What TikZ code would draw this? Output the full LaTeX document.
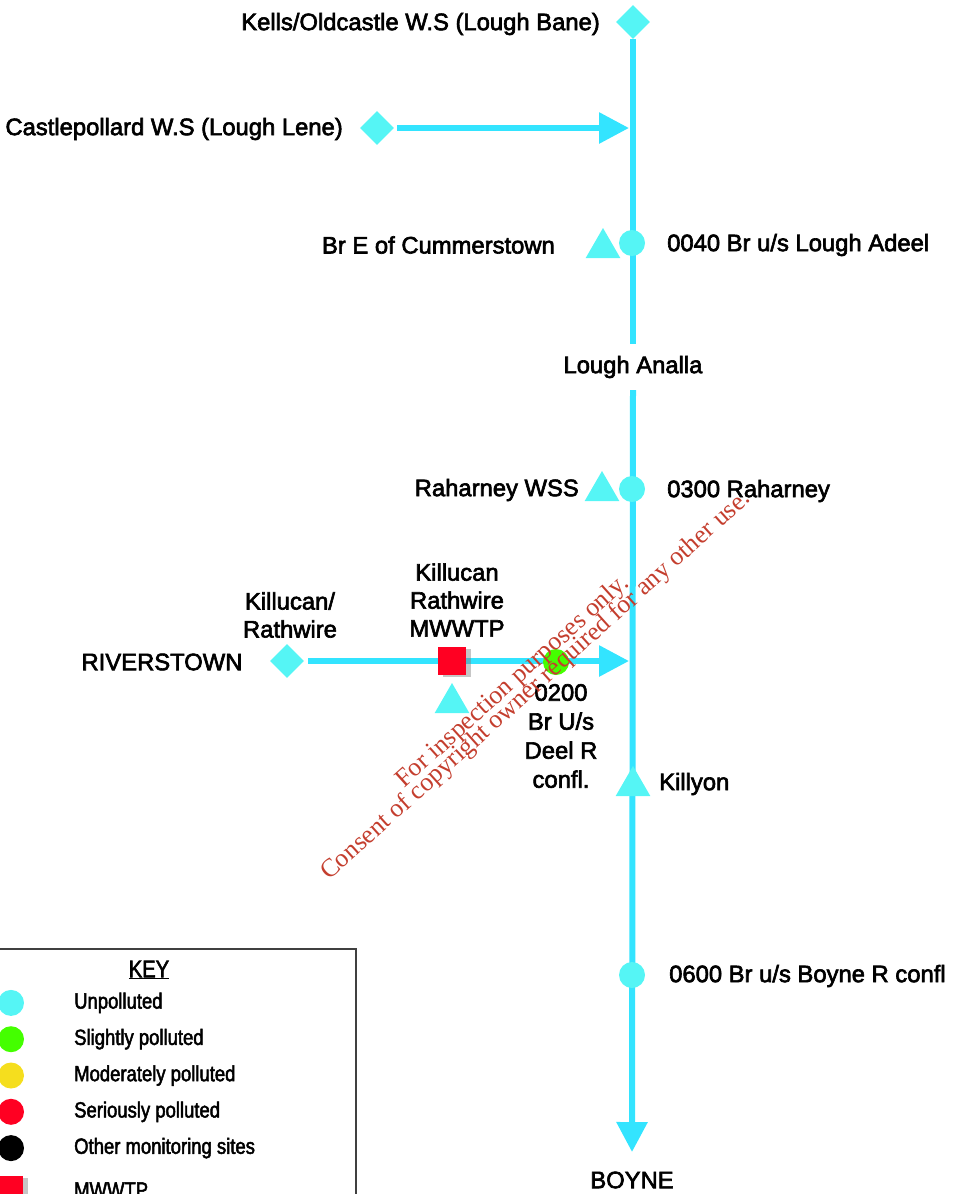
\documentclass[tikz,border=0pt]{standalone}
\usepackage{fontspec}
\setmainfont{Liberation Sans}
\newfontfamily\labelfont[FakeBold=2.6]{Liberation Sans}
\newfontfamily\keyfont[FakeStretch=0.84,FakeBold=2.2]{Liberation Sans}
\newfontfamily\markfont{Liberation Serif}
\usetikzlibrary{positioning,shapes.geometric,arrows.meta,shadows,backgrounds}
\definecolor{river}{RGB}{51,228,255}
\definecolor{clean}{RGB}{85,245,245}
\definecolor{slight}{RGB}{68,255,0}
\definecolor{moderate}{RGB}{245,222,30}
\definecolor{serious}{RGB}{255,0,34}
\definecolor{stamp}{RGB}{196,62,46}
\tikzset{x=1pt, y=-1pt, node distance=2cm, auto,
  flow/.style={draw=river, line width=6pt},
  inflow/.style={flow, -{Triangle[width=30pt,length=30pt]}},
  site/.style={circle, fill=#1, minimum size=26pt, inner sep=0pt},
  site/.default=clean,
  outfall/.style={regular polygon, regular polygon sides=3, fill=clean, minimum size=40pt, inner sep=0pt},
  supply/.style={diamond, fill=clean, minimum size=34pt, inner sep=0pt},
  plant/.style={rectangle, fill=serious, minimum size=28pt, inner sep=0pt,
    drop shadow={shadow xshift=5pt, shadow yshift=-2pt, opacity=.45}},
  lbl/.style={font=\labelfont\fontsize{23.8}{28}\selectfont, inner sep=0pt, align=center},
  keytxt/.style={font=\keyfont\fontsize{22}{24}\selectfont, anchor=west, inner sep=0pt},
  stampline/.style={font=\markfont\fontsize{25.8}{26}\selectfont, text=stamp, rotate=42, inner sep=0pt}
}
\begin{document}
\begin{tikzpicture}
  \useasboundingbox (0,0) rectangle (962,1194);
  \clip (0,0) rectangle (962,1194);

  % main channel
  \node[supply] (kells) at (633,22) {};
  \node[lbl, anchor=east] (kellsl) at (600,24) {Kells/Oldcastle W.S (Lough Bane)};
  \node[supply] (castle) at (377,128) {};
  \node[lbl, anchor=east] (castlel) at (343,129) {Castlepollard W.S (Lough Lene)};
  \coordinate (j1) at (629,128);

  \node[site] (s0040) at (632,243) {};
  \node[outfall] (cumm) at (603,248) {};
  \node[lbl, anchor=east] (cumml) at (555,245) {Br E of Cummerstown};
  \node[lbl, anchor=west] (s0040l) at (667,245) {0040 Br u/s Lough Adeel};

  \node[lbl, minimum height=46pt] (analla) at (633,367) {Lough Analla};

  \node[site] (s0300) at (632,489) {};
  \node[outfall] (rahwss) at (602,491) {};
  \node[lbl, anchor=east] (rahwssl) at (579,490) {Raharney WSS};
  \node[lbl, anchor=west] (s0300l) at (667,491) {0300 Raharney};

  % Killucan branch
  \node[supply] (kill) at (287,661) {};
  \node[lbl] (riverl) at (162,662) {RIVERSTOWN};
  \node[lbl] (killl) at (290,615) {Killucan/\\Rathwire};
  \node[plant] (wwtp) at (452,661) {};
  \node[lbl] (wwtpl) at (457,600) {Killucan\\Rathwire\\MWWTP};
  \node[outfall] (wwtpout) at (452,703) {};
  \node[site=slight] (s0200) at (556,662) {};
  \node[lbl, font=\labelfont\fontsize{23.8}{29}\selectfont] (s0200l) at (561,736) {0200\\Br U/s\\Deel R\\confl.};
  \coordinate (j2) at (629,661);

  \node[outfall] (killyon) at (633,786) {};
  \node[lbl, anchor=west] (killyonl) at (659,784) {Killyon};
  \node[site] (s0600) at (632,975) {};
  \node[lbl, anchor=west] (s0600l) at (669,976) {0600 Br u/s Boyne R confl};
  \coordinate (mouth) at (632,1152);
  \node[lbl] (boyne) at (632,1180) {BOYNE};

  \begin{pgfonlayer}{background}
    \draw[flow] (kells.south) -- (analla.north);
    \draw[inflow] (analla.south) -- (mouth);
    \draw[inflow, shorten <=3pt] (castle.east) -- (j1);
    \draw[inflow, shorten <=4pt] (kill.east) -- (j2);
  \end{pgfonlayer}

  % key
  \draw[draw=black!75, line width=1.5pt] (-10,949) rectangle (356,1240);
  \node[keytxt, anchor=center, font=\keyfont\fontsize{24}{24}\selectfont] (keyt) at (149,970) {\underline{KEY}};
  \foreach \c/\t [count=\i] in {clean/Unpolluted, slight/Slightly polluted,
      moderate/Moderately polluted, serious/Seriously polluted, black/Other monitoring sites} {
    \node[site=\c] (k\i) at (11,{966.6+36.3*\i}) {};
    \node[keytxt] (kt\i) at (74,{966.6+36.3*\i}) {\t};
  }
  \node[plant] (k6) at (9,1190) {};
  \node[keytxt] (kt6) at (74,1190) {MWWTP};

  % stamp
  \node[stampline] (wm1) at (513,682) {For inspection purposes only.};
  \node[stampline] (wm2) at (536,686) {Consent of copyright owner required for any other use.};
\end{tikzpicture}
\end{document}
